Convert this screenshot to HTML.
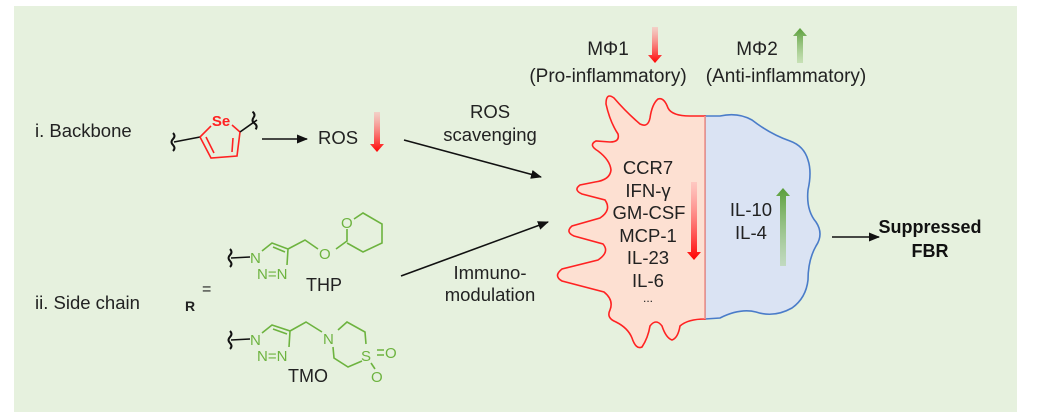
<!DOCTYPE html>
<html><head><meta charset="utf-8"><style>
html,body{margin:0;padding:0;background:#fff;width:1041px;height:415px;overflow:hidden}
svg{display:block;font-family:"Liberation Sans",sans-serif}
</style></head><body>
<svg width="1041" height="415" viewBox="0 0 1041 415">
<defs>
<marker id="ah" markerWidth="11" markerHeight="9" refX="10" refY="4.5" orient="auto" markerUnits="userSpaceOnUse"><path d="M0,0 L11,4.5 L0,9 Z" fill="#111"/></marker>
<linearGradient id="rd" x1="0" y1="0" x2="0" y2="1"><stop offset="0" stop-color="#ffb0b0" stop-opacity="0.5"/><stop offset="1" stop-color="#f00"/></linearGradient>
<linearGradient id="gu" x1="0" y1="1" x2="0" y2="0"><stop offset="0" stop-color="#a8d08d" stop-opacity="0.5"/><stop offset="1" stop-color="#5a9e3a"/></linearGradient>
</defs>
<rect x="14" y="6" width="1003" height="406" fill="#e6f1de"/>

<g font-size="19" fill="#222" text-anchor="middle">
<text x="608" y="55">MΦ1</text>
<text x="608" y="82">(Pro-inflammatory)</text>
<text x="757" y="55">MΦ2</text>
<text x="786" y="82">(Anti-inflammatory)</text>
</g>
<path d="M652,27 h6 v28 h4 l-7,8 l-7,-8 h4 Z" fill="url(#rd)"/>
<path d="M797,63 h6 v-27 h4 l-7,-8 l-7,8 h4 Z" fill="url(#gu)"/>

<g font-size="18.5" fill="#222">
<text x="35" y="137">i. Backbone</text>
<text x="35" y="309">ii. Side chain</text>
<text x="318" y="144">ROS</text>
</g>
<text x="185" y="311" font-size="14" font-weight="bold" fill="#222">R</text>
<text x="202" y="294" font-size="16" fill="#222">=</text>
<path d="M374,112 h6 v32 h4 l-7,8 l-7,-8 h4 Z" fill="url(#rd)"/>

<path d="M173,133 q3,3 0,6 q-3,3 0,6 q3,3 0,6" fill="none" stroke="#111" stroke-width="2"/>
<line x1="174" y1="142" x2="200" y2="137" stroke="#111" stroke-width="1.6"/>
<path d="M200,137 L211,158 L237,156 L240,132 M206,137 L214,153 M233,138 L232,152 M200,137 L211,126 M232,125 L240,132" fill="none" stroke="#f22" stroke-width="1.6"/>
<text x="221" y="126" font-size="15" font-weight="bold" fill="#f22" text-anchor="middle">Se</text>
<line x1="240" y1="132" x2="257" y2="120" stroke="#111" stroke-width="1.6"/>
<path d="M254,111 q3,3 0,6 q-3,3 0,6 q3,3 0,6" fill="none" stroke="#111" stroke-width="2" transform="rotate(-10 257 120)"/>
<line x1="262" y1="139" x2="307" y2="139" stroke="#111" stroke-width="1.6" marker-end="url(#ah)"/>

<g stroke="#6db33f" stroke-width="1.6" fill="none">
<path d="M230,249 q3,3 0,6 q-3,3 0,6 q3,3 0,6" stroke="#111" stroke-width="2"/>
<line x1="231" y1="258" x2="250" y2="257" stroke="#111"/>
<path d="M262,251 L272,243 L288,249 L287,265 M273,247 L285,252 M288,249 L305,240 L318,249 M336,249 L347,241 L347,229 M354,219 L363,213 L382,224 L382,243 L363,252 L347,243"/>
<path d="M230,331 q3,3 0,6 q-3,3 0,6 q3,3 0,6" stroke="#111" stroke-width="2"/>
<line x1="231" y1="340" x2="250" y2="339" stroke="#111"/>
<path d="M262,333 L272,325 L290,331 L289,347 M273,329 L287,334 M290,331 L306,322 L322,332 M338,330 L347,322 L365,332 L366,344 M362,361 L348,367 L334,358 L333,347 M377,350 L384,350 M377,355 L384,355 M371,363 L375,369"/>
</g>
<g font-size="15" fill="#6db33f">
<text x="250" y="263">N</text><text x="257" y="279">N=N</text>
<text x="319" y="259">O</text><text x="341" y="228">O</text>
<text x="250" y="345">N</text><text x="257" y="361">N=N</text>
<text x="323" y="344">N</text><text x="361" y="361">S</text>
<text x="385" y="358">O</text><text x="371" y="382">O</text>
</g>
<g font-size="18" fill="#222"><text x="306" y="291">THP</text><text x="288" y="382">TMO</text></g>

<line x1="404" y1="140" x2="541" y2="177" stroke="#111" stroke-width="1.6" marker-end="url(#ah)"/>
<line x1="401" y1="276" x2="548" y2="222" stroke="#111" stroke-width="1.6" marker-end="url(#ah)"/>
<g font-size="18.5" fill="#222" text-anchor="middle">
<text x="490" y="118">ROS</text><text x="490" y="141">scavenging</text>
<text x="490" y="279">Immuno-</text><text x="490" y="301">modulation</text>
</g>

<path d="M705,319 L720,318 Q740,308 756,312 Q774,318 792,308 Q806,298 808,280 Q808,260 816,246 Q824,234 816,222 Q806,210 808,190 Q812,172 808,160 Q804,146 790,141 Q770,134 752,120 Q738,112 720,116 L705,116 Z" fill="#dae3f3" stroke="#4a7cc9" stroke-width="1.6"/>
<path d="M705,116 L690,116 Q672,116 668,108 Q664,97 658,99 Q652,104 650,118 Q648,128 640,124 Q626,112 614,98 Q606,92 606,104 Q610,122 618,134 Q620,142 610,142 L596,141 Q588,145 598,151 Q610,160 611,170 Q610,180 595,182 L580,185 Q573,190 582,194 L605,200 Q612,210 600,218 L572,226 Q565,232 574,236 L603,244 Q610,252 598,260 L562,269 Q553,276 562,281 L604,292 Q614,300 610,310 Q606,318 616,322 Q628,328 632,338 Q636,350 642,347 Q648,338 650,326 Q656,318 662,326 Q666,338 672,340 Q678,338 680,326 Q688,319 705,319 Z" fill="#fde0d2" stroke="#f22" stroke-width="1.6"/>
<line x1="705" y1="116" x2="705" y2="319" stroke="#e8d8c8" stroke-width="1"/>
<g font-size="18.5" fill="#222" text-anchor="middle">
<text x="648" y="174">CCR7</text><text x="648" y="197">IFN-γ</text><text x="649" y="219">GM-CSF</text>
<text x="648" y="242">MCP-1</text><text x="648" y="264">IL-23</text><text x="648" y="287">IL-6</text>
<text x="648" y="302" font-size="12">...</text>
<text x="751" y="216">IL-10</text><text x="751" y="239">IL-4</text>
</g>
<path d="M691,182 h6 v70 h4 l-7,8 l-7,-8 h4 Z" fill="url(#rd)"/>
<path d="M780,266 h6 v-70 h4 l-7,-8 l-7,8 h4 Z" fill="url(#gu)"/>

<line x1="832" y1="237" x2="879" y2="237" stroke="#111" stroke-width="1.6" marker-end="url(#ah)"/>
<g font-size="18" font-weight="bold" fill="#111" text-anchor="middle">
<text x="930" y="233">Suppressed</text><text x="930" y="257">FBR</text>
</g>
</svg>
</body></html>
